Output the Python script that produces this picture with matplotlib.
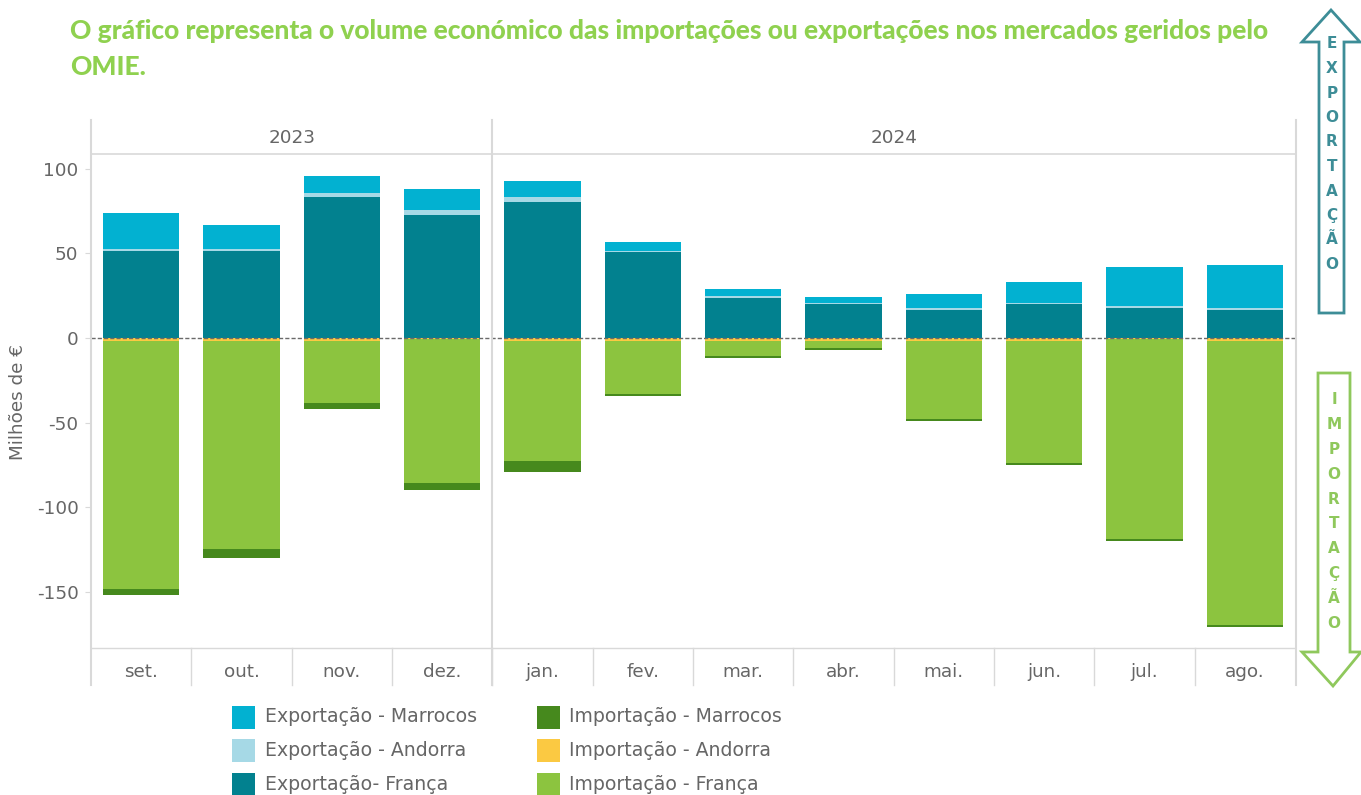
import matplotlib
matplotlib.use("Agg")
import matplotlib.pyplot as plt
from matplotlib.patches import Polygon, Rectangle
import numpy as np

# ---- data (milhões de €) ----
months = ['set.', 'out.', 'nov.', 'dez.', 'jan.', 'fev.', 'mar.', 'abr.', 'mai.', 'jun.', 'jul.', 'ago.']
years = ['2023', '2024']
months_per_year = [4, 8]

exp_franca = [51.5, 51.5, 83.4, 72.8, 80.5, 51.0, 23.7, 20.0, 16.6, 20.0, 17.7, 16.6]
exp_andorra = [1.0, 1.0, 2.4, 2.9, 2.9, 0.7, 1.2, 0.6, 1.1, 0.5, 1.2, 1.1]
exp_marrocos = [21.5, 14.4, 10.1, 12.5, 9.5, 5.1, 4.1, 3.7, 8.3, 12.6, 23.1, 25.5]

imp_andorra = [-1.5, -1.5, -1.5, -0.3, -1.5, -1.5, -1.5, -1.5, -1.5, -1.5, -0.3, -1.5]
imp_franca = [-147.0, -123.4, -37.0, -85.5, -71.3, -31.6, -9.2, -4.4, -46.4, -72.5, -118.6, -168.3]
imp_marrocos = [-3.6, -5.3, -3.5, -4.1, -6.5, -1.2, -1.1, -1.2, -1.2, -1.1, -1.2, -1.2]

series_names = ['Exportação - Marrocos', 'Exportação - Andorra', 'Exportação- França',
                'Importação - Marrocos', 'Importação - Andorra', 'Importação - França']
series_colors = ['#02b1d1', '#a6d9e6', '#02818f', '#46891d', '#fbc942', '#8cc43f']

title_lines = ['O gráfico representa o volume económico das importações ou exportações nos mercados geridos pelo',
               'OMIE.']

W, H = 1361, 795
fig = plt.figure(figsize=(W / 100, H / 100), dpi=100)
fig.patch.set_facecolor('white')

TXT = '#666666'
GRID = '#d9d9d9'
FONT = 'DejaVu Sans'

# ---- main plot area (pixel box: x 91..1295, y 155..648) ----
L, R, T, B = 91, 1295, 155, 648
ax = fig.add_axes([L / W, 1 - B / H, (R - L) / W, (B - T) / H])

x = np.arange(len(months))
bw = 0.76
ef = np.array(exp_franca)
ea = np.array(exp_andorra)
em = np.array(exp_marrocos)
ia = np.array(imp_andorra)
ifr = np.array(imp_franca)
im = np.array(imp_marrocos)

ax.bar(x, ef, bw, color=series_colors[2], linewidth=0)
ax.bar(x, ea, bw, bottom=ef, color=series_colors[1], linewidth=0)
ax.bar(x, em, bw, bottom=ef + ea, color=series_colors[0], linewidth=0)
ax.bar(x, ia, bw, color=series_colors[4], linewidth=0)
ax.bar(x, ifr, bw, bottom=ia, color=series_colors[5], linewidth=0)
ax.bar(x, im, bw, bottom=ia + ifr, color=series_colors[3], linewidth=0)

ax.axhline(0, color='#6a6a6a', lw=1.0, ls=(0, (3, 1.5)), zorder=5)

ax.set_xlim(-0.5, len(months) - 0.5)
ax.set_ylim(-183.2, 108.2)
ax.set_yticks([100, 50, 0, -50, -100, -150])
ax.set_yticklabels(['100', '50', '0', '-50', '-100', '-150'])
ax.set_xticks(x)
ax.set_xticklabels(months)
ax.tick_params(axis='y', length=4, width=0.8, color=GRID, pad=5, labelsize=13.2, labelcolor=TXT)
ax.tick_params(axis='x', length=0, pad=11, labelsize=13.2, labelcolor=TXT)
for lab in ax.get_xticklabels() + ax.get_yticklabels():
    lab.set_fontfamily(FONT)
for s in ['top', 'right', 'left']:
    ax.spines[s].set_visible(False)
ax.spines['bottom'].set_color(GRID)
ax.spines['bottom'].set_linewidth(1)

ax.set_ylabel('Milhões de €', fontsize=13.2, color=TXT, family=FONT)
ax.yaxis.set_label_coords(-(L - 27) / (R - L), 0.5)

# ---- overlay in pixel coordinates for frame, headers, legend and arrows ----
ov = fig.add_axes([0, 0, 1, 1], zorder=10)
ov.set_xlim(0, W)
ov.set_ylim(H, 0)
ov.axis('off')
ov.patch.set_alpha(0)

HEAD_T = 120
LAB_B = 685
colw = (R - L) / len(months)
# frame lines
ov.plot([L, R], [T - 1, T - 1], color=GRID, lw=1.2)
ov.plot([L, L], [HEAD_T, LAB_B], color=GRID, lw=1.5)
ov.plot([R + 1, R + 1], [HEAD_T, LAB_B], color=GRID, lw=1.5)
edges = np.cumsum([0] + months_per_year)
for e in edges[1:-1]:
    xe = L + e * colw
    ov.plot([xe, xe], [HEAD_T, LAB_B], color=GRID, lw=1.5)
for i in range(1, len(months)):
    xe = L + i * colw
    ov.plot([xe, xe], [B, LAB_B], color=GRID, lw=1.0)
for i, yr in enumerate(years):
    xc = L + (edges[i] + edges[i + 1]) / 2 * colw
    ov.text(xc, 138, yr, ha='center', va='center', fontsize=13.2, color=TXT, family=FONT)

# ---- title ----
t1 = fig.text(70 / W, 1 - 31 / H, title_lines[0], ha='left', va='center',
              fontsize=18, fontweight='black', color='#8fd14f', family='Lato')
fig.canvas.draw()
w = t1.get_window_extent(fig.canvas.get_renderer()).width
fs = 18 * 1200 / w
t1.set_fontsize(fs)
fig.text(70 / W, 1 - 67 / H, title_lines[1], ha='left', va='center',
         fontsize=fs, fontweight='black', color='#8fd14f', family='Lato')

# ---- legend ----
leg_cols = [(232, 265), (537, 569)]
leg_rows = [717, 750, 784]
for k, (name, col) in enumerate(zip(series_names, series_colors)):
    cx, tx = leg_cols[k // 3]
    cy = leg_rows[k % 3]
    ov.add_patch(Rectangle((cx, cy - 11), 23, 23, color=col, lw=0))
    ov.text(tx, cy, name, ha='left', va='center', fontsize=13.6, color=TXT, family=FONT)

# ---- direction arrows ----
up_col = '#3d8d97'
dn_col = '#8fc85c'
up = [(1331, 10), (1360, 42), (1344, 42), (1344, 313), (1319, 313), (1319, 42), (1302, 42)]
ov.add_patch(Polygon(up, closed=True, fill=False, ec=up_col, lw=2, joinstyle='miter'))
dn = [(1318, 373), (1350, 373), (1350, 652), (1361, 652), (1333, 686), (1302, 652), (1318, 652)]
ov.add_patch(Polygon(dn, closed=True, fill=False, ec=dn_col, lw=2, joinstyle='miter'))

for i, ch in enumerate('EXPORTAÇÃO'):
    ov.text(1332, 44 + i * 24.5, ch, ha='center', va='center', fontsize=11,
            fontweight='bold', color=up_col, family=FONT)
for i, ch in enumerate('IMPORTAÇÃO'):
    ov.text(1334, 400 + i * 24.8, ch, ha='center', va='center', fontsize=11,
            fontweight='bold', color=dn_col, family=FONT)

fig.savefig('out.png', dpi=100)
